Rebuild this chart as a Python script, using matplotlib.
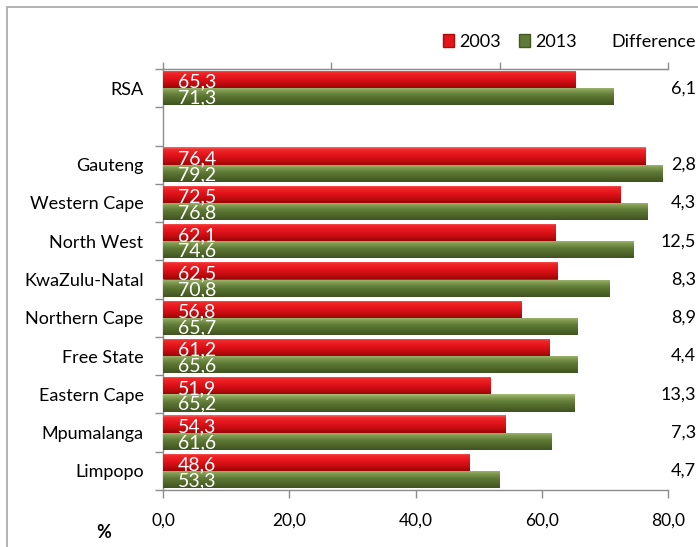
import numpy as np
import matplotlib
matplotlib.use("Agg")
import matplotlib.pyplot as plt
from matplotlib.patches import Patch, Rectangle
from matplotlib.colors import LinearSegmentedColormap
from matplotlib.ticker import FixedLocator, FuncFormatter, NullFormatter

# ---- data ----
regions = ["RSA", "Gauteng", "Western Cape", "North West", "KwaZulu-Natal",
           "Northern Cape", "Free State", "Eastern Cape", "Mpumalanga", "Limpopo"]
values_2003 = [65.3, 76.4, 72.5, 62.1, 62.5, 56.8, 61.2, 51.9, 54.3, 48.6]
values_2013 = [71.3, 79.2, 76.8, 74.6, 70.8, 65.7, 65.6, 65.2, 61.6, 53.3]
difference = ["6,1", "2,8", "4,3", "12,5", "8,3", "8,9", "4,4", "13,3", "7,3", "4,7"]
series_labels = ["2003", "2013"]
x_ticks = [0, 20, 40, 60, 80]

plt.rcParams['font.family'] = ['Lato', 'DejaVu Sans']

W, H = 698, 547
fig = plt.figure(figsize=(W / 100, H / 100), dpi=100)
ax = fig.add_axes([163 / W, 1 - 490 / H, (668 - 163) / W, (490 - 69) / H])

# positions: RSA at 0, empty slot at 1, provinces at 2..10
pos = np.array([0] + list(range(2, 2 + len(regions) - 1)), dtype=float)

red_cmap = LinearSegmentedColormap.from_list(
    "r", [(0, "#ff6a6a"), (0.12, "#f02a2a"), (0.45, "#e3141b"), (0.75, "#c20c10"), (1, "#9a0606")])
green_cmap = LinearSegmentedColormap.from_list(
    "g", [(0, "#a8bf7c"), (0.15, "#86a055"), (0.45, "#5f7a36"), (0.75, "#4f6629"), (1, "#3e521f")])

bh = 0.45
bars_r = ax.barh(pos - bh, values_2003, height=bh, align='edge', color="#e3141b", zorder=2)
bars_g = ax.barh(pos, values_2013, height=bh, align='edge', color="#5f7a36", zorder=2)

grad = np.linspace(0, 1, 64).reshape(-1, 1)
for bars, cmap in ((bars_r, red_cmap), (bars_g, green_cmap)):
    for b in bars:
        x0, y0 = b.get_x(), b.get_y()
        w, h = b.get_width(), b.get_height()
        im = ax.imshow(grad, cmap=cmap, aspect='auto', extent=(x0, x0 + w, y0 + h, y0),
                       origin='upper', zorder=3, interpolation='bicubic')
        im.set_clip_path(b)

# value labels inside bars
for p, v in zip(pos, values_2003):
    ax.annotate(f"{v:.1f}".replace(".", ","), xy=(0, p - bh / 2), xytext=(11, -2),
                textcoords='offset points', color='white', fontsize=14,
                ha='left', va='center', zorder=5)
for p, v in zip(pos, values_2013):
    ax.annotate(f"{v:.1f}".replace(".", ","), xy=(0, p + bh / 2), xytext=(11, -1),
                textcoords='offset points', color='white', fontsize=14,
                ha='left', va='center', zorder=5)

# difference column
for p, d in zip(pos, difference):
    ax.annotate(d, xy=(1, p), xycoords=('axes fraction', 'data'), xytext=(696 - 668, 0),
                textcoords='offset pixels', ha='right', va='center', fontsize=13,
                color='black', annotation_clip=False)

ax.set_xlim(0, 80)
ax.set_ylim(10.5, -0.5)

# axes styling
ax.spines["right"].set_visible(False)
for s in ("left", "top", "bottom"):
    ax.spines[s].set_color("#8c8c8c")
    ax.spines[s].set_linewidth(1.0)

ax.set_xticks(x_ticks)
ax.xaxis.set_major_formatter(FuncFormatter(lambda v, _: f"{v:.1f}".replace(".", ",")))
ax.tick_params(axis='x', which='major', direction='out', length=5.5, width=1,
               color="#8c8c8c", labelsize=12.5, pad=11, top=False, labeltop=False)

# top axis: ticks dividing the range into three
sec = ax.secondary_xaxis('top')
sec.set_xticks(np.linspace(0, 80, 4))
sec.xaxis.set_major_formatter(NullFormatter())
sec.tick_params(axis='x', direction='out', length=5, width=1, color="#8c8c8c")
sec.spines['top'].set_color("#8c8c8c")

ax.set_yticks(pos)
ax.set_yticklabels(regions)
ax.yaxis.set_minor_locator(FixedLocator(np.arange(-0.5, 11, 1.0)))
ax.tick_params(axis='y', which='major', length=0, labelsize=13, pad=14)
ax.tick_params(axis='y', which='minor', length=5.5, width=1, color="#8c8c8c", direction='out')

fig.text(104 / W, 1 - 533 / H, "%", ha='center', va='center', fontsize=13, fontweight='bold')

# legend
handles = [Patch(facecolor="#e3141b", edgecolor="#b00a0a", label=series_labels[0]),
           Patch(facecolor="#5f7a36", edgecolor="#44591f", label=series_labels[1])]
fig.legend(handles=handles, ncol=2, loc='center right',
           bbox_to_anchor=(586 / W, 1 - 42 / H), frameon=False, fontsize=13,
           handlelength=0.6, handleheight=0.75, handletextpad=0.3, columnspacing=1.0,
           borderpad=0)
fig.text(696 / W, 1 - 42 / H, "Difference", ha='right', va='center', fontsize=13)

# outer frame
fig.patches.append(Rectangle((7 / W, -0.1), 1.2, 1.1 - 7 / H, transform=fig.transFigure,
                             fill=False, edgecolor="#a6a6a6", linewidth=1.2))

fig.savefig("out.png", dpi=100)
